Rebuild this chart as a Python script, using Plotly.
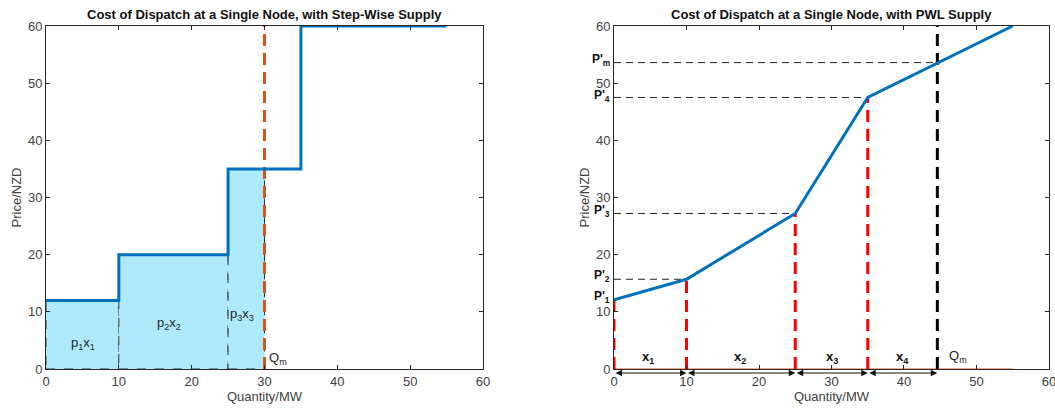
import plotly.graph_objects as go

# ---- data ----
step_q = [0, 10, 25, 35, 55]
step_p = [12, 20, 35, 60, 60]
block_lo = [0, 10, 25]
block_hi = [10, 25, 30]
block_p = [12, 20, 35]
block_labels = ["p<sub>1</sub>x<sub>1</sub>", "p<sub>2</sub>x<sub>2</sub>", "p<sub>3</sub>x<sub>3</sub>"]
block_label_x = [5.1, 16.9, 26.9]
block_label_y = [4.5, 8, 9.5]
qm_left = 30

pwl_q = [0, 10, 25, 35, 55]
pwl_p = [12.1, 15.7, 27.2, 47.5, 60]
qm_right = 44.6
pm_right = 53.6
p_labels = ["P'<sub>1</sub>", "P'<sub>2</sub>", "P'<sub>3</sub>", "P'<sub>4</sub>", "P'<sub>m</sub>"]
p_label_y = [12.6, 16.2, 27.6, 47.8, 54.0]
seg_lo = [0, 10, 25, 35]
seg_hi = [10, 25, 35, 44.6]
seg_labels = ["x<sub>1</sub>", "x<sub>2</sub>", "x<sub>3</sub>", "x<sub>4</sub>"]
seg_label_x = [4.7, 17.4, 30.0, 39.8]

x_ticks = [0, 10, 20, 30, 40, 50, 60]
y_ticks = [0, 10, 20, 30, 40, 50, 60]

BLUE = "#0072BD"
ORANGE = "#D95319"
FONT = "Liberation Sans, Arial, sans-serif"

fig = go.Figure()

# ---- left panel ----
for lo, hi, p in zip(block_lo, block_hi, block_p):
    fig.add_trace(go.Scatter(
        x=[lo, hi, hi, lo, lo], y=[0, 0, p, p, 0], mode="lines", fill="toself",
        fillcolor="#AEEAFB", line=dict(color="#333333", width=1, dash="dash"),
        xaxis="x", yaxis="y", showlegend=False, hoverinfo="skip"))
fig.add_trace(go.Scatter(
    x=[qm_left, qm_left], y=[0, 60], mode="lines",
    line=dict(color=ORANGE, width=3, dash="12px,7px"),
    xaxis="x", yaxis="y", showlegend=False))
fig.add_trace(go.Scatter(
    x=step_q, y=step_p, mode="lines", line=dict(color=BLUE, width=3, shape="hv"),
    xaxis="x", yaxis="y", showlegend=False))

for t, x, y in zip(block_labels, block_label_x, block_label_y):
    fig.add_annotation(x=x, y=y, text=t, showarrow=False, xref="x", yref="y",
                       font=dict(size=13, color="#222222", family=FONT))
fig.add_annotation(x=qm_left + 0.4, y=0.0, text="Q<sub>m</sub>", showarrow=False,
                   xref="x", yref="y", xanchor="left", yanchor="bottom",
                   font=dict(size=13, color="#222222", family=FONT))

# ---- right panel ----
fig.add_trace(go.Scatter(
    x=[0, 55], y=[0, 0], mode="lines", line=dict(color=ORANGE, width=1),
    xaxis="x2", yaxis="y2", showlegend=False))
guide_x = pwl_q[1:4] + [qm_right]
guide_y = pwl_p[1:4] + [pm_right]
for gx, gy in zip(guide_x, guide_y):
    fig.add_trace(go.Scatter(
        x=[0, gx], y=[gy, gy], mode="lines",
        line=dict(color="#222222", width=1, dash="7px,5px"),
        xaxis="x2", yaxis="y2", showlegend=False))
for q, p in zip(pwl_q[:4], pwl_p[:4]):
    fig.add_trace(go.Scatter(
        x=[q, q], y=[0, p], mode="lines",
        line=dict(color="#FF0000", width=3, dash="12px,7px"),
        xaxis="x2", yaxis="y2", showlegend=False))
fig.add_trace(go.Scatter(
    x=[qm_right, qm_right], y=[0, 60], mode="lines",
    line=dict(color="#000000", width=3, dash="12px,7px"),
    xaxis="x2", yaxis="y2", showlegend=False))
fig.add_trace(go.Scatter(
    x=pwl_q, y=pwl_p, mode="lines", line=dict(color=BLUE, width=3),
    xaxis="x2", yaxis="y2", showlegend=False))

for lo, hi in zip(seg_lo, seg_hi):
    fig.add_annotation(x=hi, y=0, ax=lo, ay=0, xref="x2", yref="y2",
                       axref="x2", ayref="y2", showarrow=True, text="",
                       yshift=-4, standoff=0, startstandoff=0,
                       arrowhead=2, startarrowhead=2, arrowside="end+start",
                       arrowsize=1.3, arrowwidth=1, arrowcolor="#111111")
for t, x in zip(seg_labels, seg_label_x):
    fig.add_annotation(x=x, y=0.2, text="<b>" + t + "</b>", showarrow=False,
                       xref="x2", yref="y2", yanchor="bottom",
                       font=dict(size=13, color="#111111", family=FONT))
fig.add_annotation(x=qm_right + 1.3, y=0.3, text="Q<sub>m</sub>", showarrow=False,
                   xref="x2", yref="y2", xanchor="left", yanchor="bottom",
                   font=dict(size=13, color="#222222", family=FONT))
for t, y in zip(p_labels, p_label_y):
    fig.add_annotation(x=0.5803, y=y, text="<b>" + t + "</b>", showarrow=False,
                       xref="paper", yref="y2", xanchor="right",
                       font=dict(size=12, color="#111111", family=FONT))

axis_common = dict(
    range=[0, 60], tickvals=x_ticks, ticks="inside", ticklen=4, tickcolor="#262626",
    showline=True, linecolor="#262626", linewidth=1, mirror="ticks", automargin=False,
    ticklabeloverflow="allow",
    showgrid=False, zeroline=False, tickfont=dict(size=13, color="#404040", family=FONT),
    title_font=dict(size=13, color="#404040", family=FONT))

fig.update_layout(
    width=1055, height=408, plot_bgcolor="white", paper_bgcolor="white",
    margin=dict(l=0, r=0, t=26, b=39),
    font=dict(family=FONT),
    xaxis=dict(domain=[0.0436, 0.4578], title_text="Quantity/MW", anchor="y", **axis_common),
    yaxis=dict(domain=[0, 1], title_text="Price/NZD", anchor="x", **{**axis_common, "tickvals": y_ticks}),
    xaxis2=dict(domain=[0.582, 0.9943], title_text="Quantity/MW", anchor="y2", **axis_common),
    yaxis2=dict(domain=[0, 1], title_text="Price/NZD", anchor="x2", **{**axis_common, "tickvals": y_ticks}),
)
fig.update_xaxes(title_standoff=0)
fig.update_yaxes(title_standoff=3)
fig.add_annotation(x=0.2507, y=1.0, yshift=2, xref="paper", yref="paper", yanchor="bottom",
                   xanchor="center",
                   text="<b>Cost of Dispatch at a Single Node, with Step-Wise Supply</b>",
                   showarrow=False, font=dict(size=13, color="#111111", family=FONT))
fig.add_annotation(x=0.788, y=1.0, yshift=2, xref="paper", yref="paper", yanchor="bottom",
                   xanchor="center",
                   text="<b>Cost of Dispatch at a Single Node, with PWL Supply</b>",
                   showarrow=False, font=dict(size=13, color="#111111", family=FONT))

fig.write_html("out.html", config={"displayModeBar": False},
               post_script="document.body.style.margin='0';document.body.style.overflow='hidden';")
